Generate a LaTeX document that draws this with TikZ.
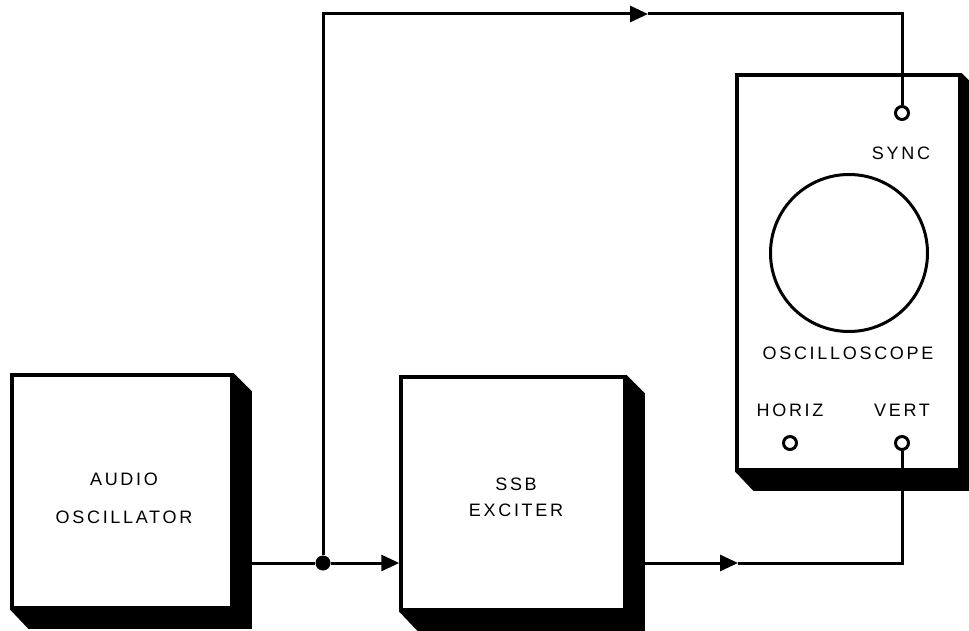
\documentclass[tikz,border=0pt]{standalone}
\usepackage{fontspec}
\newfontfamily\lbl[LetterSpace=15]{Liberation Sans}
\usetikzlibrary{arrows.meta,calc,backgrounds}
\begin{document}
\begin{tikzpicture}[x=1pt,y=-1pt,
  unit/.style={draw, line width=3.5pt, fill=white, rectangle, inner sep=0pt},
  wire/.style={line width=3pt},
  arr/.style={wire, -{Triangle[length=18pt,width=16pt]}},
  term/.style={draw, circle, line width=3pt, fill=white, minimum size=13pt, inner sep=0pt},
  lab/.style={font=\lbl\fontsize{18}{20}\selectfont, inner sep=0pt},
  shadow/.style={fill=black}]
\useasboundingbox (0,0) rectangle (969,631);
\clip (0,0) rectangle (969,631);

% units
\node[unit, minimum width=220pt, minimum height=233pt] (audio) at (122,491.5) {};
\node[unit, minimum width=224pt, minimum height=233pt] (ssb) at (513,493.5) {};
\node[unit, minimum width=223pt, minimum height=395pt] (scope) at (848.5,272.5) {};

% shadows
\begin{scope}[on background layer]
\foreach \b in {audio,ssb,scope}{
  \fill[shadow] (\b.north east) -- ++(18,18) -- ($(\b.south east)+(18,19)$)
     -- ($(\b.south west)+(18,19)$) -- (\b.south west) -- cycle;
}
\end{scope}

% labels
\node[lab, align=center, font=\lbl\fontsize{18}{38}\selectfont] (audiotxt) at (124,498) {AUDIO\\OSCILLATOR};
\node[lab, align=center, font=\lbl\fontsize{18}{26}\selectfont] (ssbtxt) at (516,497) {SSB\\EXCITER};

% oscilloscope details
\node[draw, circle, line width=3pt, minimum size=157pt, inner sep=0pt] (crt) at (849,253) {};
\node[lab] (synctxt) at (901,153) {SYNC};
\node[lab] (scopetxt) at (848,353) {OSCILLOSCOPE};
\node[lab] (horiztxt) at (790,410) {HORIZ};
\node[lab] (verttxt) at (902,410) {VERT};
\node[term] (sync) at (902,113) {};
\node[term] (horiz) at (790,443) {};
\node[term] (vert) at (902,443) {};

% junction and arrow coordinates
\node[circle, fill=black, minimum size=15pt, inner sep=0pt] (j) at (323,563) {};
\coordinate (a1) at (648,14);
\coordinate (a2) at (738,563);

% connectors
\draw[wire] (audio.east |- j) -- (j);
\draw[arr] (j) -- (ssb.west |- j);
\draw[arr] (j) |- (a1);
\draw[wire] (a1) -| (sync.north);
\draw[arr] (ssb.east |- a2) -- (a2);
\draw[wire] (a2) -| (vert.south);
\end{tikzpicture}
\end{document}
